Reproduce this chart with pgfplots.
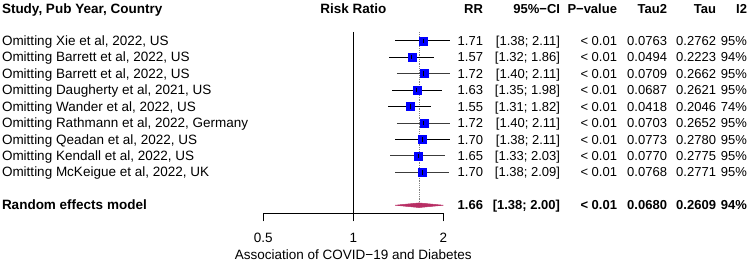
\documentclass[border=0pt]{standalone}
\usepackage{pgfplots}
\pgfplotsset{compat=1.18}
\usepackage{fontspec}
\setmainfont{Liberation Sans}
\definecolor{sqblue}{RGB}{0,0,255}
\definecolor{diam}{RGB}{184,46,100}
\definecolor{ciline}{RGB}{60,60,60}

\newcommand{\labfont}{\fontsize{13.5}{15}\selectfont}
\newcommand{\row}[8]{%
 \node[anchor=base west,font=\labfont] at (2,-#1) {#2};
 \node[anchor=base east] at (483,-#1) {#3};
 \node[anchor=base east] at (560,-#1) {#4};
 \node[anchor=base east] at (617,-#1) {#5};
 \node[anchor=base east] at (667,-#1) {#6};
 \node[anchor=base east] at (716,-#1) {#7};
 \node[anchor=base east] at (747,-#1) {#8};
}

\begin{document}
\begin{tikzpicture}[x=1pt,y=1pt,font=\fontsize{13}{15}\selectfont,every node/.style={inner sep=0pt,outer sep=0pt}]
\useasboundingbox (0,0) rectangle (749,-264);

\begin{axis}[
  at={(263.3pt,-213.3pt)}, anchor=south west,
  scale only axis, width=180pt, height=213.3pt,
  xmode=log, log basis x=2,
  xmin=0.5, xmax=2, ymin=-11.49, ymax=1.474,
  axis x line*=bottom, axis y line=none,
  axis line style={-, line width=0.8pt, black},
  xtick={0.5,1,2}, xticklabels={},
  tick align=outside, major tick length=8pt,
  tick style={line width=0.8pt, black},
  clip=false,
]
% line of no effect
\addplot[black, line width=0.8pt] coordinates {(1,-0.47) (1,-11.49)};
% pooled estimate dotted line
\addplot[gray, densely dotted, line width=0.8pt] coordinates {(1.66,-0.47) (1.66,-10.86)};
% confidence intervals
\addplot[ciline, line width=0.8pt] coordinates {(1.38,-1) (2.11,-1)};
\addplot[ciline, line width=0.8pt] coordinates {(1.32,-2) (1.86,-2)};
\addplot[ciline, line width=0.8pt] coordinates {(1.40,-3) (2.11,-3)};
\addplot[ciline, line width=0.8pt] coordinates {(1.35,-4) (1.98,-4)};
\addplot[ciline, line width=0.8pt] coordinates {(1.31,-5) (1.82,-5)};
\addplot[ciline, line width=0.8pt] coordinates {(1.40,-6) (2.11,-6)};
\addplot[ciline, line width=0.8pt] coordinates {(1.38,-7) (2.11,-7)};
\addplot[ciline, line width=0.8pt] coordinates {(1.33,-8) (2.03,-8)};
\addplot[ciline, line width=0.8pt] coordinates {(1.38,-9) (2.09,-9)};
% point estimates
\addplot[only marks, mark=square*, mark size=4pt, mark options={fill=sqblue, draw=sqblue, line width=0.4pt}]
 coordinates {(1.71,-1) (1.57,-2) (1.72,-3) (1.63,-4) (1.55,-5) (1.72,-6) (1.70,-7) (1.65,-8) (1.70,-9)};
% CI line through the squares
\addplot[black, line width=0.8pt] coordinates {(1.38,-1) (2.11,-1)};
\addplot[black, line width=0.8pt] coordinates {(1.32,-2) (1.86,-2)};
\addplot[black, line width=0.8pt] coordinates {(1.35,-4) (1.98,-4)};
\addplot[black, line width=0.8pt] coordinates {(1.31,-5) (1.82,-5)};
\addplot[black, line width=0.8pt] coordinates {(1.38,-7) (2.11,-7)};
\addplot[only marks, mark=|, mark size=2.2pt, mark options={black, line width=0.8pt}]
 coordinates {(1.71,-1) (1.57,-2) (1.72,-3) (1.63,-4) (1.55,-5) (1.72,-6) (1.70,-7) (1.65,-8) (1.70,-9)};
% diamond
\addplot[fill=diam, draw=diam, line width=0.5pt] coordinates {(1.38,-11) (1.66,-10.86) (2.00,-11) (1.66,-11.14)} -- cycle;
\end{axis}

% headers
\begin{scope}[font=\fontsize{13}{15}\selectfont\bfseries]
\node[anchor=base west,font=\labfont\bfseries] at (2,-13.15) {Study, Pub Year, Country};
\node[anchor=base,font=\labfont\bfseries] at (353.3,-13.15) {Risk Ratio};
\node[anchor=base east] at (483,-13.15) {RR};
\node[anchor=base east] at (560,-13.15) {95\%−CI};
\node[anchor=base east] at (617,-13.15) {P−value};
\node[anchor=base east] at (667,-13.15) {Tau2};
\node[anchor=base east] at (716,-13.15) {Tau};
\node[anchor=base east] at (747,-13.15) {I2};
\end{scope}

\row{45.35}{Omitting Xie et al, 2022, US}{1.71}{[1.38; 2.11]}{< 0.01}{0.0763}{0.2762}{95\%}
\row{61.8}{Omitting Barrett et al, 2022, US}{1.57}{[1.32; 1.86]}{< 0.01}{0.0494}{0.2223}{94\%}
\row{78.25}{Omitting Barrett et al, 2022, US}{1.72}{[1.40; 2.11]}{< 0.01}{0.0709}{0.2662}{95\%}
\row{94.7}{Omitting Daugherty et al, 2021, US}{1.63}{[1.35; 1.98]}{< 0.01}{0.0687}{0.2621}{95\%}
\row{111.15}{Omitting Wander et al, 2022, US}{1.55}{[1.31; 1.82]}{< 0.01}{0.0418}{0.2046}{74\%}
\row{127.6}{Omitting Rathmann et al, 2022, Germany}{1.72}{[1.40; 2.11]}{< 0.01}{0.0703}{0.2652}{95\%}
\row{144.05}{Omitting Qeadan et al, 2022, US}{1.70}{[1.38; 2.11]}{< 0.01}{0.0773}{0.2780}{95\%}
\row{160.5}{Omitting Kendall et al, 2022, US}{1.65}{[1.33; 2.03]}{< 0.01}{0.0770}{0.2775}{95\%}
\row{176.95}{Omitting McKeigue et al, 2022, UK}{1.70}{[1.38; 2.09]}{< 0.01}{0.0768}{0.2771}{95\%}
\begin{scope}[font=\fontsize{13}{15}\selectfont\bfseries]
\row{209.35}{\bfseries Random effects model}{1.66}{[1.38; 2.00]}{< 0.01}{0.0680}{0.2609}{94\%}
\end{scope}

% x tick labels and axis label
\node[anchor=base,font=\labfont] at (263.3,-242.95) {0.5};
\node[anchor=base,font=\labfont] at (353.3,-242.95) {1};
\node[anchor=base,font=\labfont] at (443.3,-242.95) {2};
\node[anchor=base,font=\labfont] at (353.3,-259.65) {Association of COVID−19 and Diabetes};
\end{tikzpicture}
\end{document}
